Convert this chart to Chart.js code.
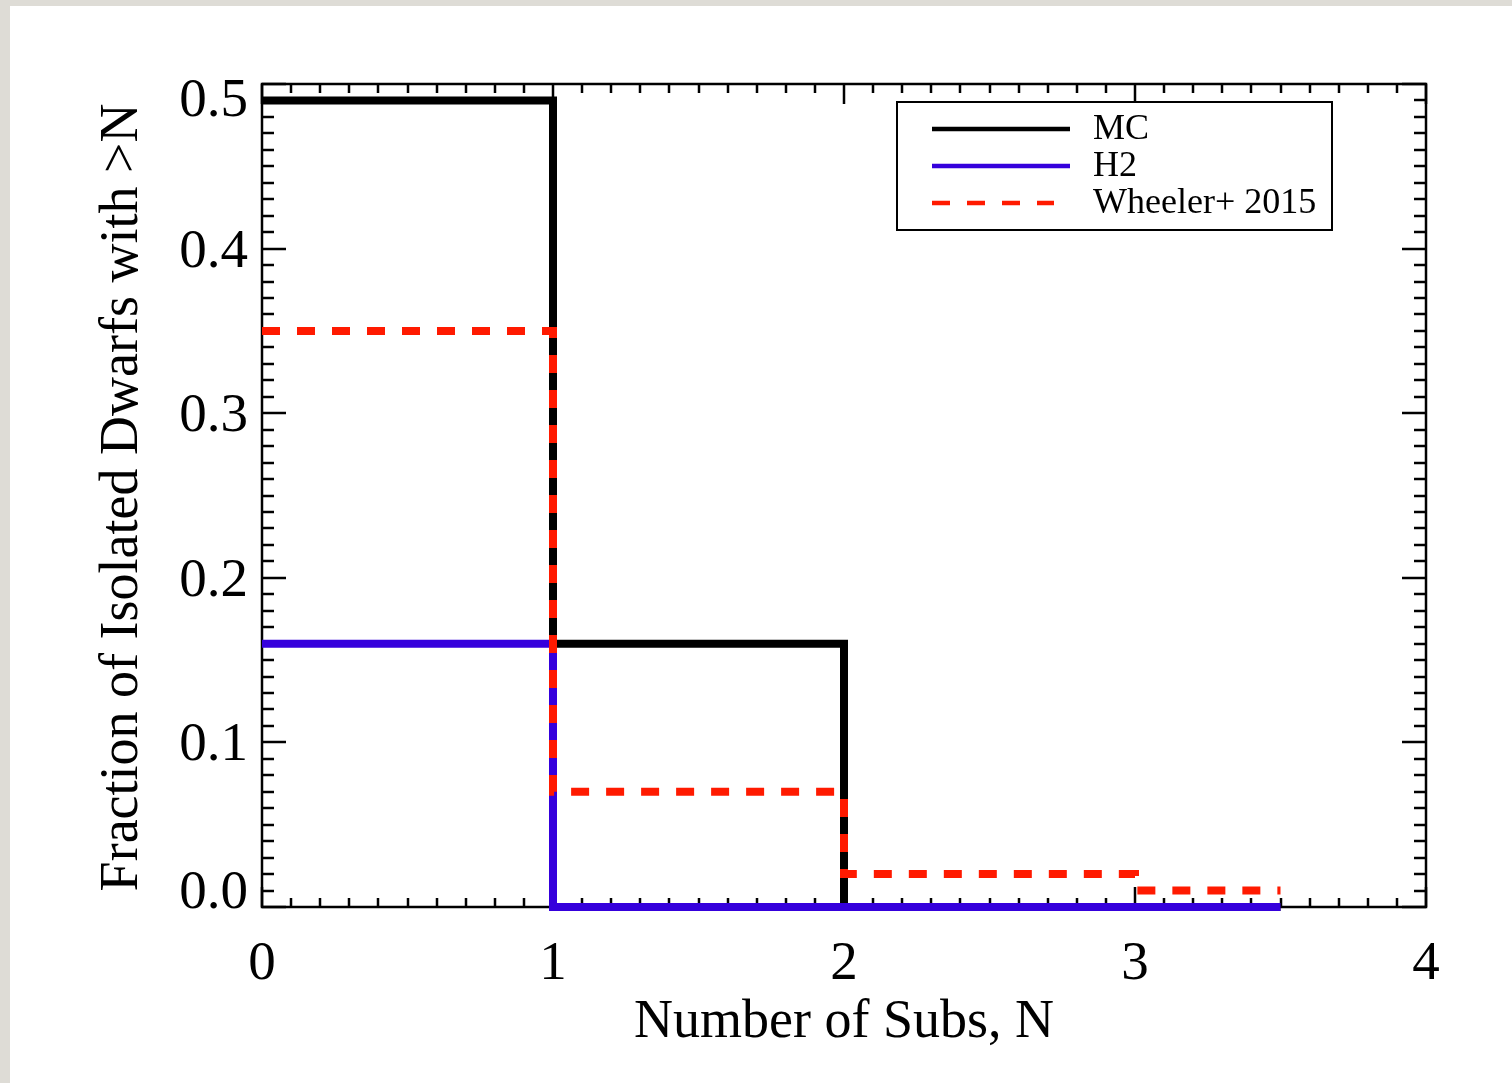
<!DOCTYPE html>
<html>
<head>
<meta charset="utf-8">
<title>Fraction of Isolated Dwarfs with &gt;N</title>
<script src="https://cdn.jsdelivr.net/npm/chart.js@4"></script>
<style>
  html, body { margin: 0; padding: 0; background: #dedcd6; }
  canvas { display: block; }
</style>
</head>
<body>
<canvas id="chart" width="1512" height="1083"></canvas>
<script>
// Cumulative fraction of isolated dwarfs hosting more than N subhaloes
const subsN       = [0, 1, 2, 3, 3.5];
const mcFrac      = [0.49, 0.16, 0, 0, 0];
const h2Frac      = [0.16, 0, 0, 0, 0];
const wheelerFrac = [0.35, 0.07, 0.02, 0.01, 0.01];

const seriesNames = ['MC', 'H2', 'Wheeler+ 2015'];
const xTickValues = [0, 1, 2, 3, 4];
const yTickValues = [0.0, 0.1, 0.2, 0.3, 0.4, 0.5];
const xTitle = 'Number of Subs, N';
const yTitle = 'Fraction of Isolated Dwarfs with >N';

const SERIF = '"Liberation Serif", "DejaVu Serif", serif';
const RED_DASH = [18, 17];

function toPoints(ys) {
  return subsN.map((x, i) => ({ x: x, y: ys[i] }));
}

// Page backdrop: grey margin with a white sheet
const backdrop = {
  id: 'backdrop',
  beforeDraw(chart) {
    const ctx = chart.ctx;
    ctx.save();
    ctx.fillStyle = '#dedcd6';
    ctx.fillRect(0, 0, chart.width, chart.height);
    ctx.fillStyle = '#ffffff';
    ctx.fillRect(10, 6, chart.width - 10, chart.height - 6);
    ctx.restore();
  }
};

// Boxed axes with inward major/minor ticks on all four sides
const boxAxes = {
  id: 'boxAxes',
  beforeDatasetsDraw(chart) {
    const ctx = chart.ctx;
    const xs = chart.scales.x, ys = chart.scales.y;
    const a = chart.chartArea;
    ctx.save();
    ctx.strokeStyle = '#000';
    ctx.lineWidth = 2.5;
    ctx.lineCap = 'butt';
    ctx.strokeRect(a.left, a.top, a.right - a.left, a.bottom - a.top);

    ctx.beginPath();
    // x ticks: majors every 1, minors every 0.1
    for (let i = 0; i <= 40; i++) {
      const v = i / 10;
      const px = Math.round(xs.getPixelForValue(v));
      const len = (i % 10 === 0) ? 20 : 9;
      ctx.moveTo(px, a.bottom); ctx.lineTo(px, a.bottom - len);
      ctx.moveTo(px, a.top);    ctx.lineTo(px, a.top + len);
    }
    // y ticks: majors every 0.1, minors every 0.01
    for (let i = 0; i <= 50; i++) {
      const v = i / 100;
      const py = Math.round(ys.getPixelForValue(v));
      const len = (i % 10 === 0) ? 24 : 12;
      ctx.moveTo(a.left, py);  ctx.lineTo(a.left + len, py);
      ctx.moveTo(a.right, py); ctx.lineTo(a.right - len, py);
    }
    ctx.stroke();

    // tick labels
    ctx.fillStyle = '#000';
    ctx.font = '55px ' + SERIF;
    ctx.textAlign = 'center';
    ctx.textBaseline = 'alphabetic';
    xTickValues.forEach(v => {
      ctx.fillText(String(v), xs.getPixelForValue(v), 979);
    });
    ctx.textAlign = 'right';
    yTickValues.forEach((v, i) => {
      let py = ys.getPixelForValue(v);
      if (i === 0) py -= 17;                       // keep end labels inside the frame
      if (i === yTickValues.length - 1) py += 14;
      ctx.fillText(v.toFixed(1), a.left - 14, py + 18);
    });

    // axis titles
    ctx.font = '54px ' + SERIF;
    ctx.textAlign = 'center';
    ctx.fillText(xTitle, (a.left + a.right) / 2, 1037);
    ctx.save();
    ctx.translate(137, (a.top + a.bottom) / 2 + 2);
    ctx.rotate(-Math.PI / 2);
    ctx.fillText(yTitle, 0, 0);
    ctx.restore();
    ctx.restore();
  }
};

// Framed legend in the upper right of the plot
const boxLegend = {
  id: 'boxLegend',
  afterDatasetsDraw(chart) {
    const ctx = chart.ctx;
    const box = { x: 897, y: 102, w: 435, h: 128 };
    ctx.save();
    ctx.fillStyle = '#fff';
    ctx.fillRect(box.x, box.y, box.w, box.h);
    ctx.strokeStyle = '#000';
    ctx.lineWidth = 2;
    ctx.strokeRect(box.x, box.y, box.w, box.h);

    ctx.font = '36px ' + SERIF;
    ctx.textAlign = 'left';
    ctx.textBaseline = 'alphabetic';
    chart.data.datasets.forEach((ds, i) => {
      const ly = 129 + i * 37;
      ctx.beginPath();
      ctx.strokeStyle = ds.borderColor;
      ctx.lineWidth = 4.5;
      ctx.lineCap = 'butt';
      ctx.setLineDash(ds.borderDash || []);
      ctx.moveTo(932, ly);
      ctx.lineTo(ds.borderDash ? 1054 : 1070, ly);
      ctx.stroke();
      ctx.setLineDash([]);
      ctx.fillStyle = '#000';
      ctx.fillText(ds.label, 1093, ly + 10);
    });
    ctx.restore();
  }
};

new Chart(document.getElementById('chart'), {
  type: 'line',
  data: {
    datasets: [
      {
        label: seriesNames[0],
        data: toPoints(mcFrac),
        borderColor: '#000000',
        borderWidth: 8,
        stepped: 'before',
        order: 3
      },
      {
        label: seriesNames[1],
        data: toPoints(h2Frac),
        borderColor: '#3500dc',
        borderWidth: 8,
        stepped: 'before',
        order: 2
      },
      {
        label: seriesNames[2],
        data: toPoints(wheelerFrac),
        borderColor: '#ff1a00',
        borderWidth: 8,
        borderDash: RED_DASH,
        stepped: 'before',
        order: 1
      }
    ]
  },
  options: {
    responsive: false,
    devicePixelRatio: 1,
    animation: false,
    layout: { padding: { left: 262, top: 84, right: 86, bottom: 176 } },
    elements: {
      point: { radius: 0, hoverRadius: 0 },
      line: { tension: 0, borderCapStyle: 'butt', borderJoinStyle: 'miter', fill: false }
    },
    datasets: { line: { clip: false } },
    scales: {
      x: { type: 'linear', min: 0, max: 4, display: false },
      y: { type: 'linear', min: 0, max: 0.5, display: false }
    },
    plugins: {
      legend: { display: false },
      tooltip: { enabled: false }
    },
    events: []
  },
  plugins: [backdrop, boxAxes, boxLegend]
});
</script>
</body>
</html>
